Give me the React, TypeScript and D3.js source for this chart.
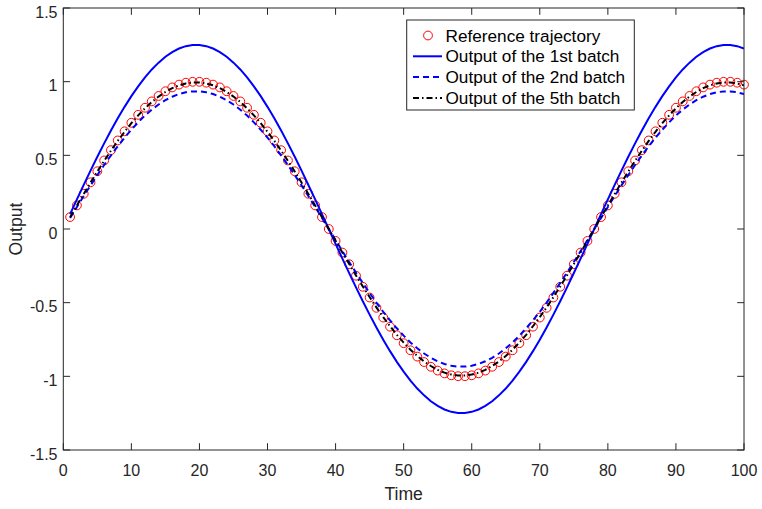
import React from "react";
import * as d3 from "d3";

const timeSteps: number[] = Array.from({ length: 100 }, (_, i) => i + 1);

const referenceTrajectory: number[] = [
  0.081, 0.160, 0.239, 0.317, 0.392, 0.465, 0.535, 0.601, 0.663, 0.721, 0.775, 0.823, 0.866, 0.903, 0.935, 0.961, 0.980, 0.993, 0.999,
  0.999, 0.993, 0.980, 0.961, 0.935, 0.903, 0.866, 0.823, 0.775, 0.721, 0.663, 0.601, 0.535, 0.465, 0.392, 0.317, 0.239, 0.160, 0.081,
  0,
  -0.081, -0.160, -0.239, -0.317, -0.392, -0.465, -0.535, -0.601, -0.663, -0.721, -0.775, -0.823, -0.866, -0.903, -0.935, -0.961, -0.980, -0.993, -0.999,
  -0.999, -0.993, -0.980, -0.961, -0.935, -0.903, -0.866, -0.823, -0.775, -0.721, -0.663, -0.601, -0.535, -0.465, -0.392, -0.317, -0.239, -0.160, -0.081,
  0,
  0.081, 0.160, 0.239, 0.317, 0.392, 0.465, 0.535, 0.601, 0.663, 0.721, 0.775, 0.823, 0.866, 0.903, 0.935, 0.961, 0.980, 0.993, 0.999,
  0.999, 0.993, 0.980,
];

const batch1Output: number[] = [
  0.101, 0.201, 0.299, 0.396, 0.490, 0.581, 0.668, 0.751, 0.829, 0.902, 0.968, 1.029, 1.083, 1.129, 1.169, 1.201, 1.225, 1.241, 1.249,
  1.249, 1.241, 1.225, 1.201, 1.169, 1.129, 1.083, 1.029, 0.968, 0.902, 0.829, 0.751, 0.668, 0.581, 0.490, 0.396, 0.299, 0.201, 0.101,
  0,
  -0.101, -0.201, -0.299, -0.396, -0.490, -0.581, -0.668, -0.751, -0.829, -0.902, -0.968, -1.029, -1.083, -1.129, -1.169, -1.201, -1.225, -1.241, -1.249,
  -1.249, -1.241, -1.225, -1.201, -1.169, -1.129, -1.083, -1.029, -0.968, -0.902, -0.829, -0.751, -0.668, -0.581, -0.490, -0.396, -0.299, -0.201, -0.101,
  0,
  0.101, 0.201, 0.299, 0.396, 0.490, 0.581, 0.668, 0.751, 0.829, 0.902, 0.968, 1.029, 1.083, 1.129, 1.169, 1.201, 1.225, 1.241, 1.249,
  1.249, 1.241, 1.225,
];

const batch2Output: number[] = [
  0.075, 0.150, 0.224, 0.296, 0.366, 0.434, 0.500, 0.562, 0.620, 0.674, 0.724, 0.770, 0.810, 0.845, 0.874, 0.898, 0.916, 0.928, 0.934,
  0.934, 0.928, 0.916, 0.898, 0.874, 0.845, 0.810, 0.770, 0.724, 0.674, 0.620, 0.562, 0.500, 0.434, 0.366, 0.296, 0.224, 0.150, 0.075,
  0,
  -0.075, -0.150, -0.224, -0.296, -0.366, -0.434, -0.500, -0.562, -0.620, -0.674, -0.724, -0.770, -0.810, -0.845, -0.874, -0.898, -0.916, -0.928, -0.934,
  -0.934, -0.928, -0.916, -0.898, -0.874, -0.845, -0.810, -0.770, -0.724, -0.674, -0.620, -0.562, -0.500, -0.434, -0.366, -0.296, -0.224, -0.150, -0.075,
  0,
  0.075, 0.150, 0.224, 0.296, 0.366, 0.434, 0.500, 0.562, 0.620, 0.674, 0.724, 0.770, 0.810, 0.845, 0.874, 0.898, 0.916, 0.928, 0.934,
  0.934, 0.928, 0.916,
];

const batch5Output: number[] = [
  0.080, 0.160, 0.238, 0.315, 0.390, 0.462, 0.532, 0.598, 0.660, 0.718, 0.771, 0.819, 0.862, 0.899, 0.930, 0.956, 0.975, 0.988, 0.994,
  0.994, 0.988, 0.975, 0.956, 0.930, 0.899, 0.862, 0.819, 0.771, 0.718, 0.660, 0.598, 0.532, 0.462, 0.390, 0.315, 0.238, 0.160, 0.080,
  0,
  -0.080, -0.160, -0.238, -0.315, -0.390, -0.462, -0.532, -0.598, -0.660, -0.718, -0.771, -0.819, -0.862, -0.899, -0.930, -0.956, -0.975, -0.988, -0.994,
  -0.994, -0.988, -0.975, -0.956, -0.930, -0.899, -0.862, -0.819, -0.771, -0.718, -0.660, -0.598, -0.532, -0.462, -0.390, -0.315, -0.238, -0.160, -0.080,
  0,
  0.080, 0.160, 0.238, 0.315, 0.390, 0.462, 0.532, 0.598, 0.660, 0.718, 0.771, 0.819, 0.862, 0.899, 0.930, 0.956, 0.975, 0.988, 0.994,
  0.994, 0.988, 0.975,
];

const xTicks: number[] = [0, 10, 20, 30, 40, 50, 60, 70, 80, 90, 100];
const yTicks: number[] = [-1.5, -1, -0.5, 0, 0.5, 1, 1.5];
const legendLabels: string[] = [
  "Reference trajectory",
  "Output of the 1st batch",
  "Output of the 2nd batch",
  "Output of the 5th batch",
];

const W = 762;
const H = 509;
const L = 63.3;
const R = 744;
const T = 8;
const B = 450;
const AX = "#262626";
const FONT = "'Liberation Sans', Arial, Helvetica, sans-serif";

export default function App() {
  const x = d3.scaleLinear().domain([0, 100]).range([L, R]);
  const y = d3.scaleLinear().domain([-1.5, 1.5]).range([B, T]);
  const line = (vals: number[]) =>
    d3
      .line<number>()
      .x((_, i) => x(timeSteps[i]))
      .y((d) => y(d))(vals) || "";
  const tick = 6.8;
  const lgX = 406.7;
  const lgY = 20;
  const lgW = 227.6;
  const lgH = 90;
  const rowY = (i: number) => 35.5 + i * 20.8;
  const styles = [
    { stroke: "#0000ff", dash: undefined as string | undefined, w: 2 },
    { stroke: "#0000ff", dash: "6 4", w: 2 },
    { stroke: "#000000", dash: "6 3 1.5 3", w: 2 },
  ];
  const series = [batch1Output, batch2Output, batch5Output];
  return (
    <svg
      width={W}
      height={H}
      style={{ position: "absolute", left: 0, top: 0, background: "#fff" }}
      fontFamily={FONT}
    >
      <rect x={0} y={0} width={W} height={H} fill="#fff" />
      <defs>
        <clipPath id="plotclip">
          <rect x={L} y={T} width={R - L} height={B - T} />
        </clipPath>
      </defs>
      <g>
        {timeSteps.map((t, i) => (
          <circle
            key={t}
            cx={x(t)}
            cy={y(referenceTrajectory[i])}
            r={4.4}
            fill="none"
            stroke="#ff0000"
            strokeWidth={1}
          />
        ))}
      </g>
      <g clipPath="url(#plotclip)">
        {series.map((s, k) => (
          <path
            key={k}
            d={line(s)}
            fill="none"
            stroke={styles[k].stroke}
            strokeWidth={styles[k].w}
            strokeDasharray={styles[k].dash}
          />
        ))}
      </g>
      <rect x={L} y={T} width={R - L} height={B - T} fill="none" stroke={AX} strokeWidth={1} />
      {xTicks.map((v) => (
        <g key={"x" + v}>
          <line x1={x(v)} x2={x(v)} y1={B} y2={B - tick} stroke={AX} />
          <line x1={x(v)} x2={x(v)} y1={T} y2={T + tick} stroke={AX} />
          <text x={x(v)} y={476} fontSize={16} textAnchor="middle" fill={AX}>
            {v}
          </text>
        </g>
      ))}
      {yTicks.map((v) => (
        <g key={"y" + v}>
          <line x1={L} x2={L + tick} y1={y(v)} y2={y(v)} stroke={AX} />
          <line x1={R} x2={R - tick} y1={y(v)} y2={y(v)} stroke={AX} />
          <text x={57.5} y={y(v) + 9.8} fontSize={16} textAnchor="end" fill={AX}>
            {v}
          </text>
        </g>
      ))}
      <text x={(L + R) / 2} y={500} fontSize={17.6} textAnchor="middle" fill={AX}>
        Time
      </text>
      <text
        transform={`translate(22,${(T + B) / 2}) rotate(-90)`}
        fontSize={17.6}
        textAnchor="middle"
        fill={AX}
      >
        Output
      </text>
      <rect x={lgX} y={lgY} width={lgW} height={lgH} fill="#fff" stroke={AX} strokeWidth={1} />
      <circle cx={428} cy={rowY(0)} r={4.4} fill="none" stroke="#ff0000" strokeWidth={1} />
      {styles.map((s, k) => (
        <line
          key={k}
          x1={413}
          x2={442}
          y1={rowY(k + 1)}
          y2={rowY(k + 1)}
          stroke={s.stroke}
          strokeWidth={s.w}
          strokeDasharray={s.dash}
        />
      ))}
      {legendLabels.map((lab, i) => (
        <text key={lab} x={445.5} y={rowY(i) + 6} fontSize={17.2} fill="#000">
          {lab}
        </text>
      ))}
    </svg>
  );
}
